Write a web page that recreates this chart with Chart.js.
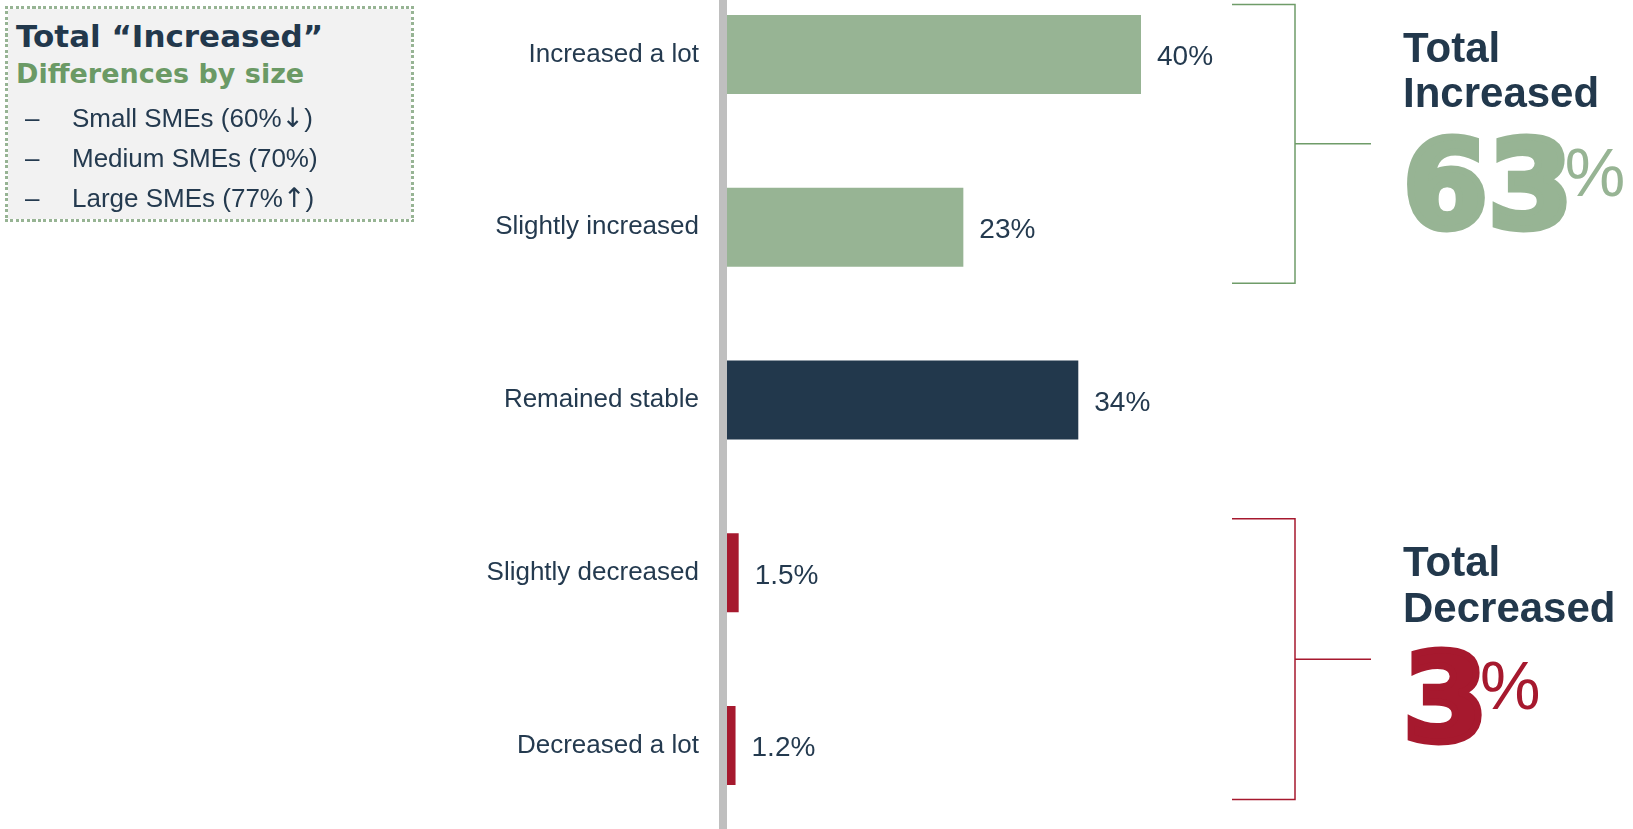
<!DOCTYPE html>
<html lang="en">
<head>
<meta charset="utf-8">
<title>Change reported by SMEs</title>
<script src="https://cdn.jsdelivr.net/npm/chart.js@4.4.1/dist/chart.umd.min.js"></script>
<style>
  html, body { margin: 0; padding: 0; background: #ffffff; }
  body {
    position: relative;
    width: 1633px;
    height: 829px;
    overflow: hidden;
    font-family: "Liberation Sans", Arial, sans-serif;
    color: #22384c;
  }
  #chartWrap { position: absolute; left: 0; top: -32px; width: 1633px; height: 864px; }

  /* square-dotted frame drawn as four repeating strips */
  .size-box {
    --dot: #97b494;
    position: absolute;
    left: 5px;
    top: 6px;
    width: 409px;
    height: 216px;
    background:
      repeating-linear-gradient(90deg, var(--dot) 0 3px, transparent 3px 5.5px) left top / 100% 3px no-repeat,
      repeating-linear-gradient(90deg, var(--dot) 0 3px, transparent 3px 5.5px) left bottom / 100% 3px no-repeat,
      repeating-linear-gradient(180deg, var(--dot) 0 3px, transparent 3px 5.5px) left top / 3px 100% no-repeat,
      repeating-linear-gradient(180deg, var(--dot) 0 3px, transparent 3px 5.5px) right top / 3px 100% no-repeat,
      linear-gradient(#f2f2f2, #f2f2f2) 3px 3px / calc(100% - 6px) calc(100% - 6px) no-repeat;
  }
  .box-title, .box-sub, .size-list, .total-label, .total-value {
    position: absolute;
    margin: 0;
    white-space: nowrap;
  }
  .box-title {
    left: 16px;
    top: 21px;
    font: bold 31px/1 "DejaVu Sans", sans-serif;
    color: #22384c;
  }
  .box-sub {
    left: 16px;
    top: 60px;
    font: bold 27px/1 "DejaVu Sans", sans-serif;
    color: #6b9a65;
  }
  .size-list {
    left: 0;
    top: 98px;
    padding: 0;
    list-style: none;
    font-size: 26px;
    line-height: 40px;
    color: #243a4f;
  }
  .size-list li { position: relative; padding-left: 72px; }
  .size-list li::before { content: "\2013"; position: absolute; left: 25px; }
  .size-list .arrow { font-family: "DejaVu Sans", sans-serif; font-size: 27px; }

  .total-label {
    left: 1403px;
    font: bold 42px/45px "Liberation Sans", Arial, sans-serif;
    color: #22384c;
  }
  .total-value {
    left: 1403px;
    font: bold 122px/1 "DejaVu Sans", sans-serif;
    -webkit-text-stroke: 7px currentColor;
  }
  .total-value .pct {
    position: relative;
    top: -31px;
    margin-left: -8px;
    font: normal 68px/1 "Liberation Sans", Arial, sans-serif;
    -webkit-text-stroke: 0;
  }
  #incLabel { top: 25px; }
  #incValue { top: 124px; color: #97b494; }
  #decLabel { top: 539px; line-height: 46px; }
  #decValue { top: 637px; color: #a6192e; }
</style>
</head>
<body>
<div id="chartWrap"><canvas id="changeChart"></canvas></div>

<div class="size-box"></div>
<p class="box-title">Total “Increased”</p>
<p class="box-sub">Differences by size</p>
<ul class="size-list" id="sizeList"></ul>

<p class="total-label" id="incLabel">Total<br>Increased</p>
<p class="total-value" id="incValue"></p>
<p class="total-label" id="decLabel">Total<br>Decreased</p>
<p class="total-value" id="decValue"></p>

<script>
const categories = [
  "Increased a lot",
  "Slightly increased",
  "Remained stable",
  "Slightly decreased",
  "Decreased a lot",
];
const shares = [40, 23, 34, 1.5, 1.2];
const direction = ["up", "up", "flat", "down", "down"];

const sizeGroups = ["Small SMEs", "Medium SMEs", "Large SMEs"];
const sizeIncreased = [60, 70, 77];
const sizeTrend = ["\u2193", "", "\u2191"];

const increasedRows = [0, 1];
const decreasedRows = [3, 4];

const palette = {
  up: "#97b494",
  flat: "#22384c",
  down: "#a6192e",
  upLine: "#6f9c69",
  text: "#243a4f",
  axis: "#bfbfbf",
};

const font = '"Liberation Sans", Arial, sans-serif';

function groupTotal(rows) {
  return Math.round(rows.reduce((sum, i) => sum + shares[i], 0));
}

function fillTotals() {
  document.getElementById("incValue").innerHTML =
    `${groupTotal(increasedRows)}<span class="pct">%</span>`;
  document.getElementById("decValue").innerHTML =
    `${groupTotal(decreasedRows)}<span class="pct">%</span>`;

  const list = document.getElementById("sizeList");
  list.replaceChildren(...sizeGroups.map((name, i) => {
    const item = document.createElement("li");
    item.append(`${name} (${sizeIncreased[i]}%`);
    if (sizeTrend[i]) {
      const arrow = document.createElement("span");
      arrow.className = "arrow";
      arrow.textContent = sizeTrend[i];
      item.append(arrow);
    }
    item.append(")");
    return item;
  }));
}

// percentage printed just past the end of each bar
const valueLabels = {
  id: "valueLabels",
  afterDatasetsDraw(chart) {
    const { ctx } = chart;
    const bars = chart.getDatasetMeta(0).data;
    ctx.save();
    ctx.font = `28px ${font}`;
    ctx.fillStyle = palette.text;
    ctx.textBaseline = "middle";
    ctx.textAlign = "left";
    bars.forEach((bar, i) => {
      ctx.fillText(`${shares[i]}%`, bar.x + 16, bar.y + 3);
    });
    ctx.restore();
  },
};

// square brackets grouping the increased and decreased rows
const groupBrackets = {
  id: "groupBrackets",
  afterDraw(chart) {
    const { ctx } = chart;
    const y = chart.scales.y;
    const drawBracket = (rows, color, topGap, bottomGap) => {
      const top = y.getPixelForValue(rows[0]) - topGap;
      const bottom = y.getPixelForValue(rows[rows.length - 1]) + bottomGap;
      const mid = (top + bottom) / 2;
      ctx.save();
      ctx.strokeStyle = color;
      ctx.lineWidth = 1.5;
      ctx.beginPath();
      ctx.moveTo(1232, top);
      ctx.lineTo(1295, top);
      ctx.lineTo(1295, bottom);
      ctx.lineTo(1232, bottom);
      ctx.moveTo(1295, mid);
      ctx.lineTo(1371, mid);
      ctx.stroke();
      ctx.restore();
    };
    drawBracket(increasedRows, palette.upLine, 50, 56);
    drawBracket(decreasedRows, palette.down, 54, 54);
  },
};

new Chart(document.getElementById("changeChart"), {
  type: "bar",
  data: {
    labels: categories,
    datasets: [
      {
        data: shares,
        backgroundColor: direction.map((d) => palette[d]),
        borderWidth: 0,
        categoryPercentage: 0.457,
        barPercentage: 1,
      },
    ],
  },
  options: {
    indexAxis: "y",
    responsive: true,
    maintainAspectRatio: false,
    animation: false,
    layout: { padding: { left: 0, right: 283, top: 0, bottom: 0 } },
    plugins: {
      legend: { display: false },
      tooltip: { enabled: false },
    },
    scales: {
      x: {
        display: false,
        min: 0,
        max: 60,
      },
      y: {
        afterFit(scale) {
          scale.width = 723;
          scale.paddingTop = 0;
          scale.paddingBottom = 0;
        },
        grid: { display: false, drawTicks: false },
        border: { display: true, color: palette.axis, width: 8, z: 1 },
        ticks: {
          color: palette.text,
          padding: 24,
          font: { family: font, size: 26 },
        },
      },
    },
  },
  plugins: [valueLabels, groupBrackets],
});

fillTotals();
</script>
</body>
</html>
